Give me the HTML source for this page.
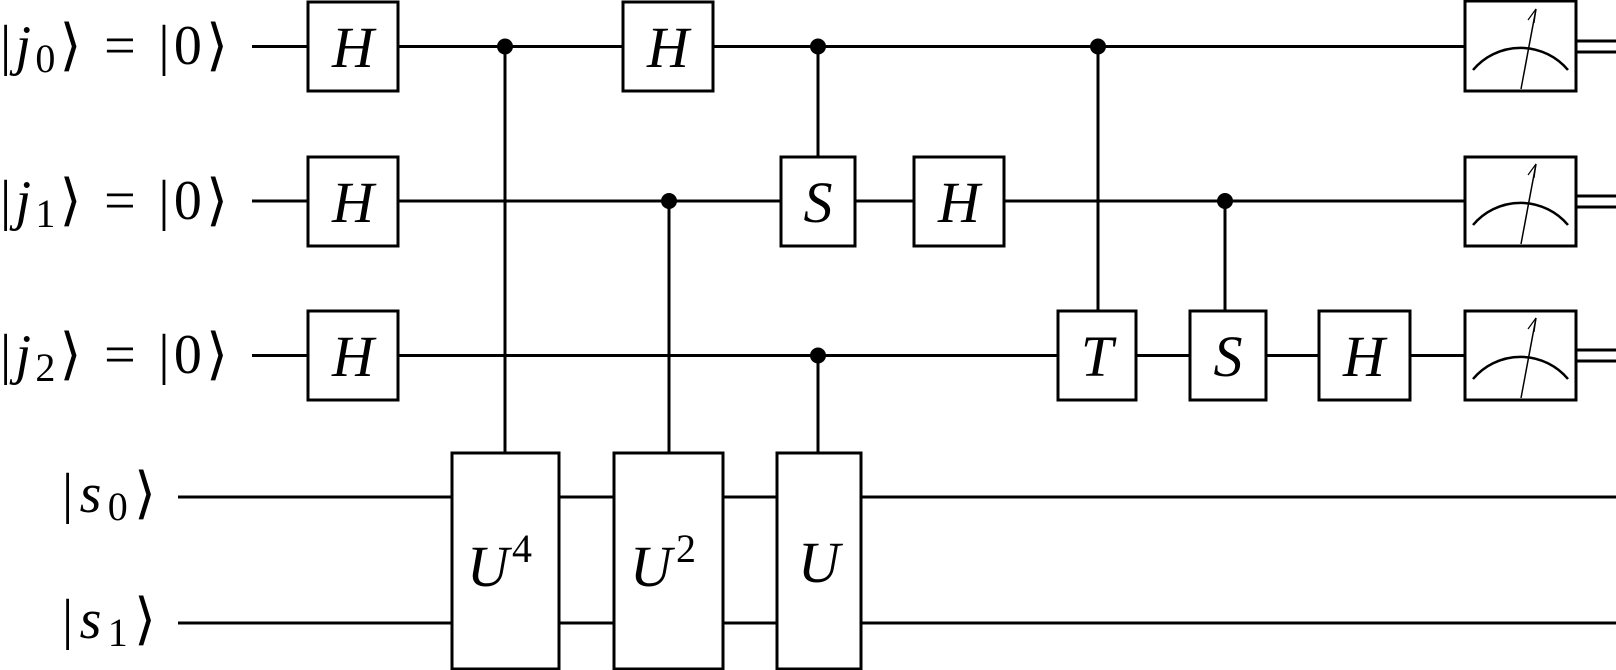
<!DOCTYPE html>
<html><head><meta charset="utf-8"><style>html,body{margin:0;padding:0;background:#fff;}svg{display:block}</style></head>
<body>
<svg width="1616" height="670" viewBox="0 0 1616 670" xmlns="http://www.w3.org/2000/svg" font-family="'Liberation Serif', serif">
<g stroke="#000" stroke-width="3" fill="none">
<line x1="252" y1="46.5" x2="1465" y2="46.5"/>
<line x1="252" y1="201" x2="1465" y2="201"/>
<line x1="252" y1="355.5" x2="1465" y2="355.5"/>
<line x1="178" y1="497" x2="1616" y2="497"/>
<line x1="178" y1="623" x2="1616" y2="623"/>
<line x1="1576" y1="41" x2="1616" y2="41"/><line x1="1576" y1="52" x2="1616" y2="52"/>
<line x1="1576" y1="196" x2="1616" y2="196"/><line x1="1576" y1="207" x2="1616" y2="207"/>
<line x1="1576" y1="350" x2="1616" y2="350"/><line x1="1576" y1="361" x2="1616" y2="361"/>
<line x1="505" y1="46" x2="505" y2="453"/>
<line x1="669" y1="201" x2="669" y2="453"/>
<line x1="818" y1="46" x2="818" y2="157"/>
<line x1="818" y1="355" x2="818" y2="453"/>
<line x1="1098" y1="46" x2="1098" y2="311"/>
<line x1="1225" y1="201" x2="1225" y2="311"/>
</g>
<g fill="#000">
<circle cx="505" cy="46.5" r="8"/><circle cx="669" cy="201" r="8"/>
<circle cx="818" cy="46.5" r="8"/><circle cx="818" cy="355.5" r="8"/>
<circle cx="1098" cy="46.5" r="8"/><circle cx="1225" cy="201" r="8"/>
</g>
<g stroke="#000" stroke-width="3" fill="#fff">
<rect x="308" y="2" width="90" height="89"/>
<rect x="308" y="157" width="90" height="89"/>
<rect x="308" y="311" width="90" height="89"/>
<rect x="623" y="2" width="90" height="89"/>
<rect x="781" y="157" width="74" height="89"/>
<rect x="914" y="157" width="90" height="89"/>
<rect x="1058" y="311" width="78" height="89"/>
<rect x="1190" y="311" width="76" height="89"/>
<rect x="1319" y="311" width="91" height="89"/>
<rect x="452" y="453" width="107" height="216"/>
<rect x="614" y="453" width="109" height="216"/>
<rect x="777" y="453" width="84" height="216"/>
<rect x="1465" y="1" width="111" height="90"/>
<rect x="1465" y="157" width="111" height="89"/>
<rect x="1465" y="311" width="111" height="89"/>
</g>
<g stroke="#000" fill="none">
<path d="M1473 70 A62 62 0 0 1 1568 70" stroke-width="2.5"/>
<line x1="1521" y1="89" x2="1536" y2="9" stroke-width="1.5"/>
<path d="M1528 20 L1536 9 L1534 23" stroke-width="1.2"/>
<path d="M1473 225 A62 62 0 0 1 1568 225" stroke-width="2.5"/>
<line x1="1521" y1="244" x2="1536" y2="164" stroke-width="1.5"/>
<path d="M1528 175 L1536 164 L1534 178" stroke-width="1.2"/>
<path d="M1473 379 A62 62 0 0 1 1568 379" stroke-width="2.5"/>
<line x1="1521" y1="398" x2="1536" y2="318" stroke-width="1.5"/>
<path d="M1528 329 L1536 318 L1534 332" stroke-width="1.2"/>
</g>
<g font-size="58" font-style="italic" text-anchor="middle" fill="#000">
<text x="353" y="67">H</text><text x="353" y="222">H</text><text x="353" y="376">H</text>
<text x="668" y="67">H</text><text x="818" y="222">S</text><text x="959" y="222">H</text>
<text x="1097" y="376">T</text><text x="1228" y="376">S</text><text x="1364" y="376">H</text>
<text x="819" y="582">U</text>
<text x="488" y="586">U</text><text x="651" y="586">U</text>
</g>
<g font-size="40" fill="#000">
<text x="512" y="562">4</text><text x="676" y="562">2</text>
</g>
<g fill="#000" font-size="56">
<text x="0" y="64" textLength="228" lengthAdjust="spacing">|<tspan font-style="italic">j</tspan><tspan font-size="40" dy="8">0</tspan><tspan dy="-8">⟩ = |0⟩</tspan></text>
<text x="0" y="219" textLength="228" lengthAdjust="spacing">|<tspan font-style="italic">j</tspan><tspan font-size="40" dy="8">1</tspan><tspan dy="-8">⟩ = |0⟩</tspan></text>
<text x="0" y="373" textLength="228" lengthAdjust="spacing">|<tspan font-style="italic">j</tspan><tspan font-size="40" dy="8">2</tspan><tspan dy="-8">⟩ = |0⟩</tspan></text>
<text x="62" y="512" textLength="94" lengthAdjust="spacing">|<tspan font-style="italic">s</tspan><tspan font-size="40" dy="8">0</tspan><tspan dy="-8">⟩</tspan></text>
<text x="62" y="638" textLength="94" lengthAdjust="spacing">|<tspan font-style="italic">s</tspan><tspan font-size="40" dy="8">1</tspan><tspan dy="-8">⟩</tspan></text>
</g>
</svg>
</body></html>
